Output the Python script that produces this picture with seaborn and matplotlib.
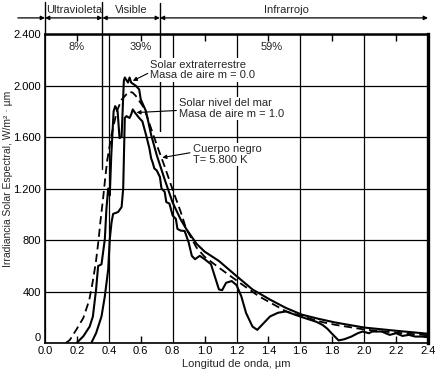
import numpy as np
import pandas as pd
import matplotlib
matplotlib.use('Agg')
import matplotlib.pyplot as plt
import seaborn as sns

# ---------------------------------------------------------------
# datos (longitud de onda en um, W/m2 um)
# ---------------------------------------------------------------
# Solar extraterrestre, masa de aire m = 0
lam_ext = [0.198, 0.24, 0.28, 0.30, 0.32, 0.333, 0.354, 0.375, 0.385, 0.396,
           0.406, 0.415, 0.43, 0.44, 0.455, 0.467, 0.48, 0.494, 0.50, 0.52,
           0.53, 0.54, 0.57, 0.59, 0.60, 0.633, 0.665, 0.70, 0.75, 0.80,
           0.85, 0.885, 0.95, 1.0, 1.09, 1.2, 1.3, 1.41, 1.51, 1.61,
           1.72, 1.82, 2.0, 2.2, 2.4]
irr_ext = [0, 52, 128, 206, 415, 598, 611, 807, 1043, 1200,
           1147, 1450, 1800, 1840, 1800, 1592, 1600, 2036, 2062, 2023,
           2062, 2023, 1997, 1970, 1892, 1800, 1617, 1460, 1270, 1090,
           960, 886, 770, 710, 637, 520, 416, 337, 272, 220,
           186, 159, 120, 95, 72]

# Solar nivel del mar, masa de aire m = 1
lam_mar = [0.29, 0.32, 0.354, 0.375, 0.396, 0.406, 0.417, 0.427, 0.458, 0.48,
           0.49, 0.50, 0.51, 0.53, 0.54, 0.55, 0.565, 0.59, 0.61, 0.633,
           0.654, 0.665, 0.675, 0.685, 0.70, 0.72, 0.73, 0.75, 0.76, 0.78,
           0.80, 0.82, 0.83, 0.85, 0.875, 0.90, 0.92, 0.94, 0.97, 1.0,
           1.04, 1.07, 1.09, 1.11, 1.135, 1.17, 1.2, 1.23, 1.26, 1.30,
           1.33, 1.36, 1.41, 1.46, 1.51, 1.6, 1.7, 1.74, 1.77, 1.80,
           1.84, 1.875, 1.92, 1.96, 1.99, 2.03, 2.05, 2.11, 2.16, 2.20,
           2.24, 2.28, 2.32, 2.36, 2.4]
irr_mar = [0, 76, 206, 363, 572, 807, 938, 1003, 1017, 1056,
           1200, 1748, 1762, 1748, 1775, 1814, 1787, 1748, 1722, 1617,
           1513, 1435, 1400, 1356, 1340, 1290, 1200, 1174, 1095, 1082,
           990, 964, 886, 873, 870, 782, 677, 651, 677, 651,
           612, 494, 416, 410, 468, 481, 450, 363, 233, 128,
           102, 141, 206, 235, 245, 205, 165, 140, 110, 70,
           20, 29, 50, 76, 89, 76, 89, 89, 63, 76,
           55, 63, 50, 50, 45]

# Cuerpo negro T = 5800 K
lam_cn = [0.13, 0.156, 0.198, 0.24, 0.277, 0.298, 0.319, 0.335, 0.348, 0.365,
          0.377, 0.39, 0.417, 0.45, 0.48, 0.51, 0.53, 0.55, 0.57, 0.62,
          0.65, 0.70, 0.75, 0.80, 0.85, 0.885, 0.95, 1.0, 1.09, 1.22,
          1.34, 1.51, 1.72, 1.82, 2.0, 2.2, 2.4]
irr_cn = [0, 24, 107, 194, 332, 468, 630, 794, 951, 1134,
          1278, 1420, 1617, 1800, 1890, 1931, 1952, 1944, 1918, 1827,
          1720, 1540, 1370, 1190, 1020, 886, 740, 670, 585, 468,
          363, 246, 167, 141, 105, 80, 60]

x_major = [0.0, 0.4, 0.8, 1.2, 1.6, 2.0, 2.4]
x_major_lab = ['0.0', '0.4', '0.8', '1.2', '1.6', '2.0', '2.4']
x_minor = [0.2, 0.6, 1.0, 1.4, 1.8, 2.2]
x_minor_lab = ['0.2', '0.6', '1.0', '1.4', '1.8', '2.2']
y_ticks = [0, 400, 800, 1200, 1600, 2000, 2400]
y_labels = ['0', '400', '800', '1.200', '1.600', '2.000', '2.400']

bandas = ['Ultravioleta', 'Visible', 'Infrarrojo']
pos_bandas = [0.18, 0.54, 1.51]
limites = [0.0, 0.36, 0.72, 2.4]
porcentajes = ['8%', '39%', '59%']
pos_porc = [0.2, 0.6, 1.42]

# ---------------------------------------------------------------
sns.set_style('white')
plt.rcParams['font.family'] = ['Liberation Sans', 'DejaVu Sans']

fig = plt.figure(figsize=(4.44, 3.77), dpi=100)
ax = fig.add_axes([45/444, 34/377, 383/444, 309/377])

kw = dict(color='black', sort=False, estimator=None, ax=ax, zorder=3)
sns.lineplot(x=lam_cn, y=irr_cn, lw=1.3, linestyle=(0, (4.5, 2.5)), **kw)
sns.lineplot(x=lam_mar, y=irr_mar, lw=1.5, **kw)
sns.lineplot(x=lam_ext, y=irr_ext, lw=1.5, **kw)

ax.set_xlim(0, 2.4)
ax.set_ylim(0, 2400)
ax.set_xticks(x_major, x_major_lab)
ax.set_xticks(x_minor, x_minor_lab, minor=True)
ax.set_yticks(y_ticks, y_labels)
ax.tick_params(which='major', length=0, labelsize=8, pad=3, colors='black')
ax.tick_params(axis='x', which='both', pad=2)
ax.tick_params(which='minor', direction='in', length=5, width=1,
               top=True, bottom=True, labelsize=8, colors='black')
ax.get_yticklabels()[0].set_va('bottom')
ax.grid(True, which='major', color='black', lw=0.9)
ax.set_axisbelow(True)

for s in ax.spines.values():
    s.set_color('black')
    s.set_linewidth(1.2)
ax.spines['right'].set_linewidth(2.4)
ax.spines['top'].set_linewidth(1.8)

ax.set_xlabel('Longitud de onda, µm', fontsize=8)
ax.set_ylabel('Irradiancia Solar Espectral, W/m² · µm', fontsize=7.5)
ax.yaxis.set_label_coords(-0.083, 0.53)
ax.xaxis.set_label_coords(0.5, -0.052)

# cabecera con las bandas
y_flecha = 2525
y_txt = 2585
ax.plot([0.0, 0.0], [2400, 2650], color='black', lw=1, clip_on=False)
ax.plot([0.36, 0.36], [1350, 2650], color='black', lw=1, clip_on=False)
ax.plot([0.72, 0.72], [1650, 2640], color='black', lw=1, clip_on=False)
ap = dict(color='black', lw=0.9, shrinkA=0, shrinkB=0, mutation_scale=6)
ax.annotate('', xy=(0.0, y_flecha), xytext=(-0.17, y_flecha),
            arrowprops=dict(arrowstyle='-|>', **ap), annotation_clip=False)
for i in range(3):
    ax.annotate('', xy=(limites[i], y_flecha), xytext=(limites[i+1], y_flecha),
                arrowprops=dict(arrowstyle='<|-|>', **ap), annotation_clip=False)
    ax.text(pos_bandas[i], y_txt, bandas[i], ha='center', va='center',
            fontsize=8, clip_on=False)
    ax.text(pos_porc[i], 2300, porcentajes[i], ha='center', va='center',
            fontsize=8)

# etiquetas de las curvas
caja = dict(facecolor='white', edgecolor='none', pad=1)
fl = dict(arrowstyle='-|>', color='black', lw=0.8, mutation_scale=6,
          shrinkA=1, shrinkB=0, relpos=(0, 0.4))
ax.annotate('Solar extraterrestre\nMasa de aire m = 0.0', xy=(0.55, 2036),
            xytext=(0.66, 2120), fontsize=8, va='center', ha='left',
            linespacing=1.1, bbox=caja, arrowprops=fl, zorder=5)
ax.annotate('Solar nivel del mar\nMasa de aire m = 1.0', xy=(0.573, 1790),
            xytext=(0.84, 1823), fontsize=8, va='center', ha='left',
            linespacing=1.1, bbox=caja, arrowprops=fl, zorder=5)
fl2 = dict(fl, relpos=(0, 0.6))
ax.annotate('Cuerpo negro\nT= 5.800 K', xy=(0.735, 1440),
            xytext=(0.925, 1465), fontsize=8, va='center', ha='left',
            linespacing=1.1, bbox=caja, arrowprops=fl2, zorder=5)

fig.savefig('out.png', dpi=100)
